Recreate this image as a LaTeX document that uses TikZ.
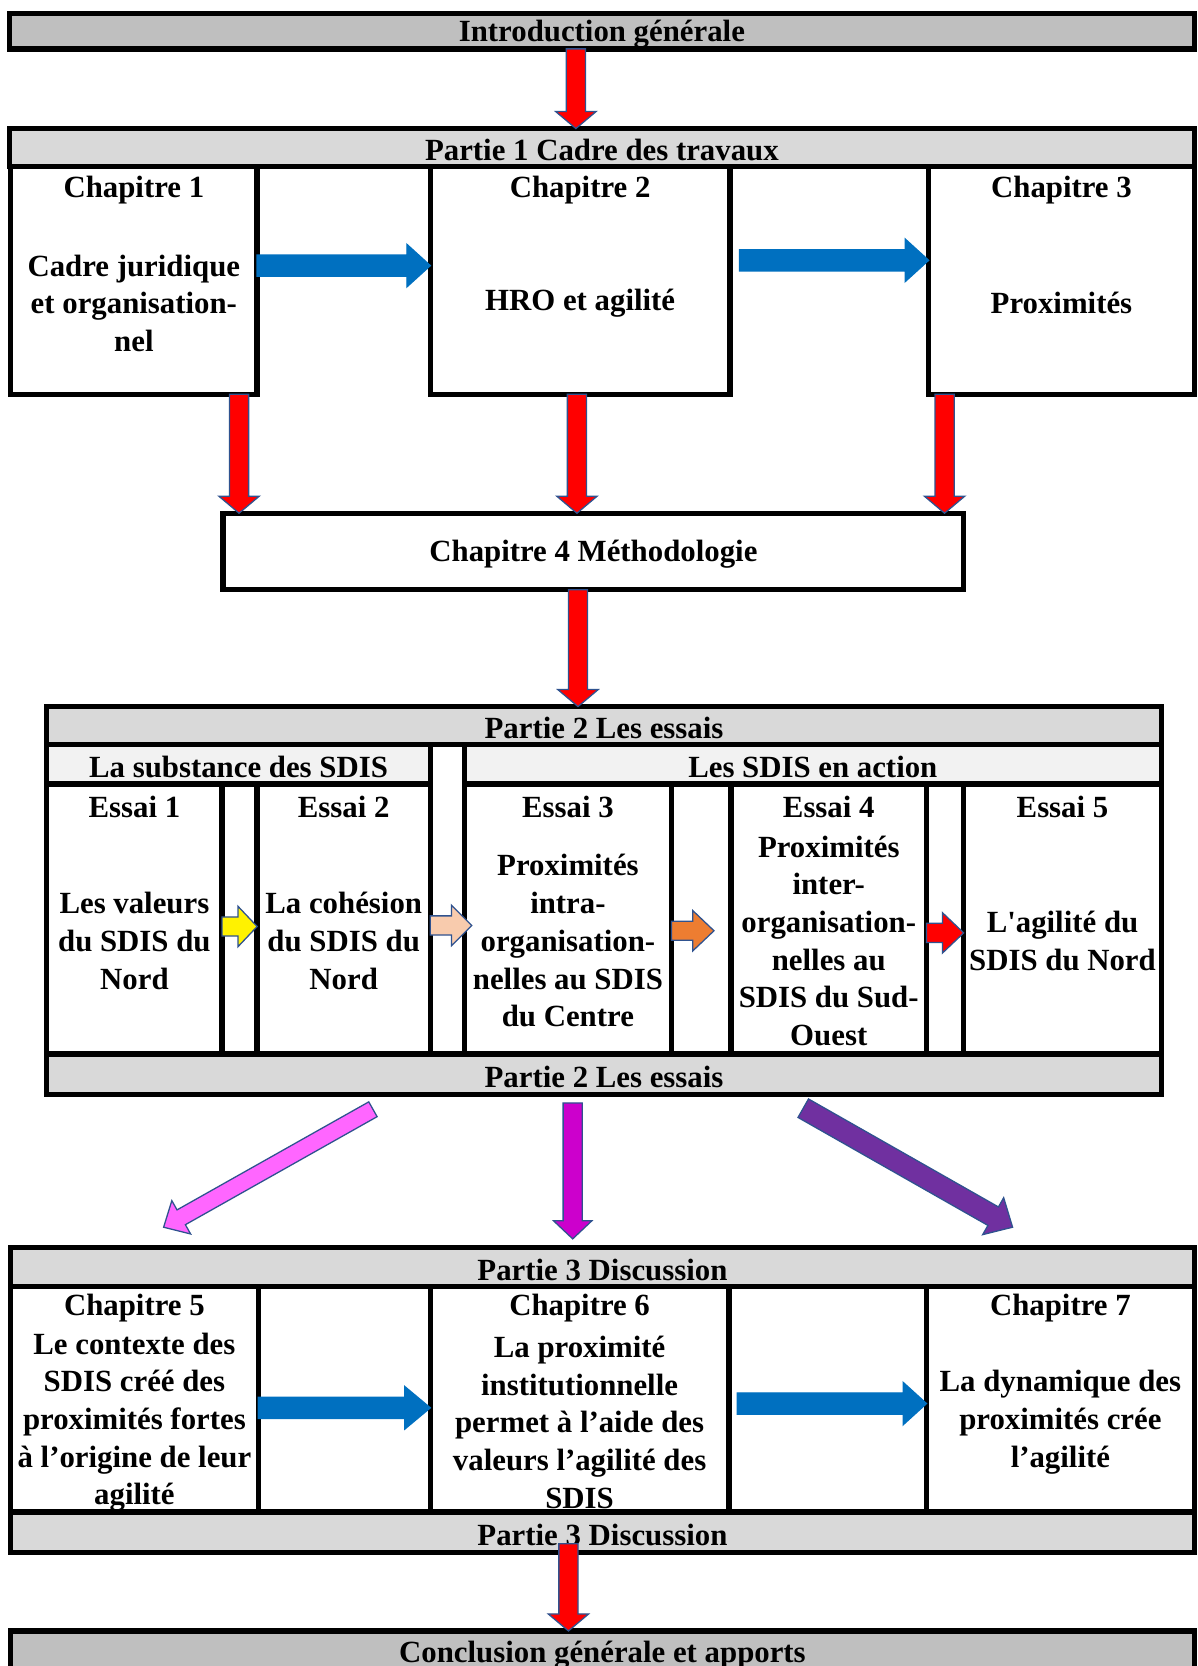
\documentclass[tikz,border=0pt]{standalone}
\usepackage{fontspec}
\setmainfont{Liberation Serif}
\usetikzlibrary{calc,fit}
\definecolor{bargray}{HTML}{BFBFBF}
\definecolor{headgray}{HTML}{D9D9D9}
\definecolor{subgray}{HTML}{F2F2F2}
\definecolor{arrowline}{HTML}{2F528F}
\definecolor{flowblue}{HTML}{0070C0}
\definecolor{peach}{HTML}{F8CBAD}
\definecolor{dorange}{HTML}{ED7D31}
\definecolor{pinkarr}{HTML}{FF66FF}
\definecolor{magarr}{HTML}{CC00CC}
\definecolor{purparr}{HTML}{7030A0}
\tikzset{
bshaft/.store in=\bsw, bhead/.store in=\bhw, blen/.store in=\bhl,
bshaft=9pt, bhead=19pt, blen=16pt,
barrow/.style={draw=arrowline, line width=1.2pt, line join=miter,
to path={($(\tikztostart)!\bsw!90:(\tikztotarget)$)
--($(\tikztotarget)!\bhl!(\tikztostart)!\bsw!90:(\tikztotarget)$)
--($(\tikztotarget)!\bhl!(\tikztostart)!\bhw!90:(\tikztotarget)$)
--(\tikztotarget)
--($(\tikztotarget)!\bhl!(\tikztostart)!\bhw!-90:(\tikztotarget)$)
--($(\tikztotarget)!\bhl!(\tikztostart)!\bsw!-90:(\tikztotarget)$)
--($(\tikztostart)!\bsw!-90:(\tikztotarget)$)--cycle}}
}
\begin{document}
\begin{tikzpicture}[x=1pt,y=-1pt,line join=miter,
box/.style={draw,line width=5pt,fill=white,inner sep=0pt,outer sep=0pt},
txt/.style={font=\fontsize{29}{35.5}\selectfont\bfseries,align=center,inner sep=0pt,yshift=-2.5pt}]
\path[fill=white,use as bounding box] (0,0) rectangle (1127,1568);

% introduction
\node[box,fill=bargray,fit={(9,13) (1124,46)}] (intro) {};
\node[txt] (introt) at (intro.center) {Introduction générale};

% partie 1
\node[box,fill=headgray,fit={(9,121) (1124,157)}] (p1) {};
\node[txt] (p1t) at (p1.center) {Partie 1 Cadre des travaux};
\node[box,fit={(10,157) (242,371)}] (ch1) {};
\node[box,fit={(405,157) (687,371)}] (ch2) {};
\node[box,fit={(874,157) (1124,371)}] (ch3) {};
\node[txt] (ch1a) at (ch1.center |- 0,176) {Chapitre 1};
\node[txt] (ch2a) at (ch2.center |- 0,176) {Chapitre 2};
\node[txt] (ch3a) at (ch3.center |- 0,176) {Chapitre 3};
\node[txt] (ch1b) at (ch1.center |- 0,283) {Cadre juridique\\et organisation-\\nel};
\node[txt] (ch2b) at (ch2.center |- 0,283) {HRO et agilité};
\node[txt] (ch3b) at (ch3.center |- 0,283) {Proximités};

\node[box,fit={(210,483) (907,555)}] (ch4) {};
\node[txt] (ch4t) at (ch4.center) {Chapitre 4 Méthodologie};

% partie 2
\node[box,fit={(44,665) (1093,1030)}] (p2) {};
\node[box,fill=headgray,fit={(44,665) (1093,701)}] (p2h) {};
\node[box,fill=subgray,fit={(44,701) (405,738)}] (sub1) {};
\node[box,fill=subgray,fit={(437,701) (1093,738)}] (sub2) {};
\node[box,fit={(44,738) (209,992)}] (e1) {};
\node[box,fit={(242,738) (405,992)}] (e2) {};
\node[box,fit={(437,738) (632,992)}] (e3) {};
\node[box,fit={(688,738) (872,992)}] (e4) {};
\node[box,fit={(907,738) (1093,992)}] (e5) {};
\node[box,fill=headgray,fit={(44,992) (1093,1030)}] (p2f) {};
\node[txt] (p2ht) at (p2h.center) {Partie 2 Les essais};
\node[txt] (sub1t) at (sub1.center) {La substance des SDIS};
\node[txt] (sub2t) at (sub2.center) {Les SDIS en action};
\node[txt] (p2ft) at (p2f.center) {Partie 2 Les essais};
\node[txt] (e1a) at (e1.center |- 0,757) {Essai 1};
\node[txt] (e2a) at (e2.center |- 0,757) {Essai 2};
\node[txt] (e3a) at (e3.center |- 0,757) {Essai 3};
\node[txt] (e4a) at (e4.center |- 0,757) {Essai 4};
\node[txt] (e5a) at (e5.center |- 0,757) {Essai 5};
\node[txt] (e1b) at (e1.center |- 0,883) {Les valeurs\\du SDIS du\\Nord};
\node[txt] (e2b) at (e2.center |- 0,883) {La cohésion\\du SDIS du\\Nord};
\node[txt] (e3b) at (e3.center |- 0,883) {Proximités\\intra-\\organisation-\\nelles au SDIS\\du Centre};
\node[txt] (e4b) at (e4.center |- 0,883) {Proximités\\inter-\\organisation-\\nelles au\\SDIS du Sud-\\Ouest};
\node[txt] (e5b) at (e5.center |- 0,883) {L\textquotesingle agilité du\\SDIS du Nord};

% partie 3
\node[box,fit={(10,1174) (1124,1461)}] (p3) {};
\node[box,fill=headgray,fit={(10,1174) (1124,1211)}] (p3h) {};
\node[box,fit={(10,1211) (243,1423)}] (ch5) {};
\node[box,fit={(405,1211) (686,1423)}] (ch6) {};
\node[box,fit={(872,1211) (1124,1423)}] (ch7) {};
\node[box,fill=headgray,fit={(10,1423) (1124,1461)}] (p3f) {};
\node[txt] (p3ht) at (p3h.center) {Partie 3 Discussion};
\node[txt] (p3ft) at (p3f.center) {Partie 3 Discussion};
\node[txt] (ch5a) at (ch5.center |- 0,1229) {Chapitre 5};
\node[txt] (ch6a) at (ch6.center |- 0,1229) {Chapitre 6};
\node[txt] (ch7a) at (ch7.center |- 0,1229) {Chapitre 7};
\node[txt] (ch5b) at (ch5.center |- 0,1336) {Le contexte des\\SDIS créé des\\proximités fortes\\à l’origine de leur\\agilité};
\node[txt] (ch6b) at (ch6.center |- 0,1336) {La proximité\\institutionnelle\\permet à l’aide des\\valeurs l’agilité des\\SDIS};
\node[txt] (ch7b) at (ch7.center |- 0,1336) {La dynamique des\\proximités crée\\l’agilité};

\node[box,fill=bargray,fit={(10,1535) (1124,1600)}] (concl) {};
\node[txt] (conclt) at (concl.center |- 0,1555) {Conclusion générale et apports};

% arrows
\coordinate (c23) at ($(ch2.east |- 0,245)+(9,0)$);
\coordinate (c67) at ($(ch6.east |- 0,1321)+(8,0)$);
\coordinate (pk) at ($(e3.west |- 0,871)+(7,0)$);
\coordinate (og) at ($(e4.west |- 0,876)+(-16,0)$);
\coordinate (c3c) at ($(p3f.south -| 535,0)+(0,-8)$);
\coordinate (d1) at (351,1044); \coordinate (d1e) at (154,1155);
\coordinate (d2) at (539,1038); \coordinate (d2e) at (539,1166);
\coordinate (d3) at (756,1043); \coordinate (d3e) at (953,1155);

\draw[barrow,fill=red] (intro.south -| 542,0) to (p1.north -| 542,0);
\draw[barrow,draw=flowblue,fill=flowblue,bshaft=10pt,bhead=20pt,blen=22pt] (ch1.east |- 0,250) to (ch2.west |- 0,250);
\draw[barrow,draw=flowblue,fill=flowblue,bshaft=10pt,bhead=20pt,blen=22pt] (c23) to (ch3.west |- 0,245);
\draw[barrow,fill=red] (ch1.south -| 225,0) to (ch4.north -| 225,0);
\draw[barrow,fill=red] (ch2.south -| 543,0) to (ch4.north -| 543,0);
\draw[barrow,fill=red] (ch3.south -| 889,0) to (ch4.north -| 889,0);
\draw[barrow,fill=red] (ch4.south -| 544,0) to (p2.north -| 544,0);

\draw[barrow,fill=yellow,bshaft=9pt,bhead=19pt,blen=18pt] (e1.east |- 0,872) to (e2.west |- 0,872);
\draw[barrow,fill=peach,bshaft=9pt,bhead=19pt,blen=19pt] (e2.east |- 0,871) to (pk);
\draw[barrow,fill=dorange,bshaft=9pt,bhead=19pt,blen=20pt] (e3.east |- 0,876) to (og);
\draw[barrow,fill=red,bshaft=9pt,bhead=19pt,blen=20pt] (e4.east |- 0,878) to (e5.west |- 0,878);

\draw[barrow,fill=pinkarr,bshaft=8pt,bhead=18pt,blen=19pt] (d1) to (d1e);
\draw[barrow,fill=magarr,bshaft=9pt,bhead=18pt,blen=17pt] (d2) to (d2e);
\draw[barrow,fill=purparr,bshaft=10pt,bhead=20pt,blen=21pt] (d3) to (d3e);

\draw[barrow,draw=flowblue,fill=flowblue,bshaft=10pt,bhead=20pt,blen=24pt] (ch5.east |- 0,1325) to (ch6.west |- 0,1325);
\draw[barrow,draw=flowblue,fill=flowblue,bshaft=10pt,bhead=20pt,blen=22pt] (c67) to (ch7.west |- 0,1321);
\draw[barrow,fill=red] (c3c) to (concl.north -| 535,0);
\end{tikzpicture}
\end{document}
